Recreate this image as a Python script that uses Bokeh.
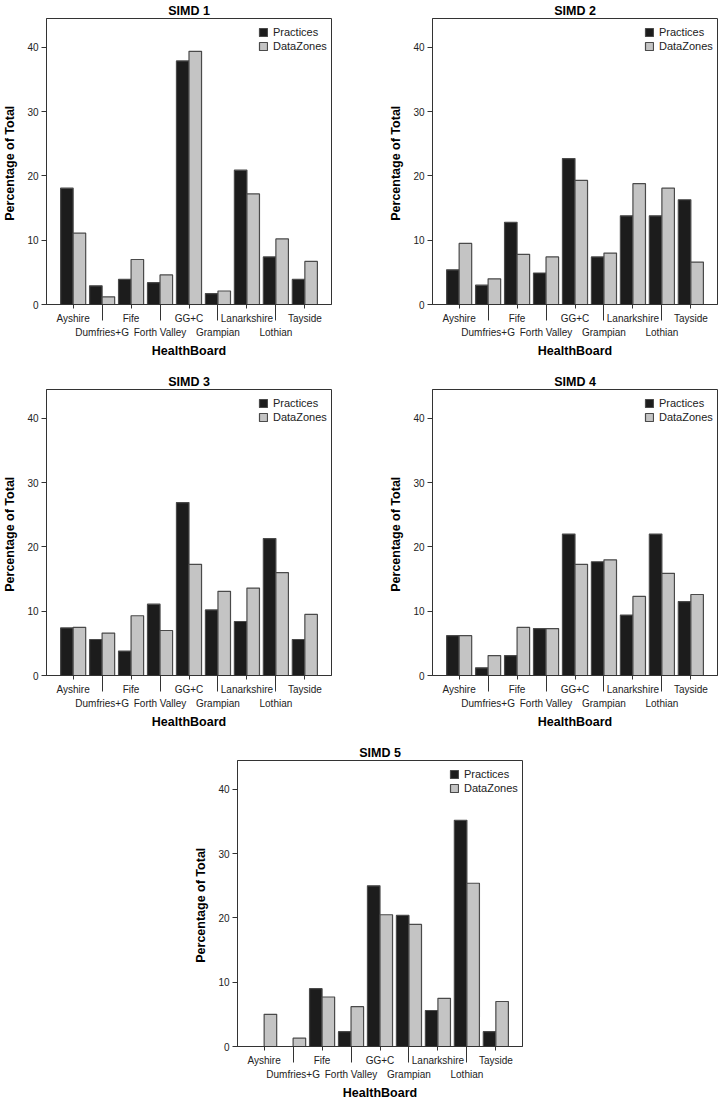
from bokeh.plotting import figure
from bokeh.models import ColumnDataSource, Range1d, FixedTicker, LinearAxis, Spacer
from bokeh.layouts import column, row
from bokeh.transform import dodge
from bokeh.embed import file_html
from bokeh.resources import INLINE

health_boards = ["Ayshire", "Dumfries+G", "Fife", "Forth Valley", "GG+C",
                 "Grampian", "Lanarkshire", "Lothian", "Tayside"]
series_names = ["Practices", "DataZones"]
y_ticks = [0, 10, 20, 30, 40]

simd1_practices = [18.1, 2.9, 3.9, 3.4, 37.9, 1.7, 20.9, 7.4, 3.9]
simd1_datazones = [11.1, 1.2, 7.0, 4.6, 39.4, 2.1, 17.2, 10.2, 6.7]
simd2_practices = [5.4, 3.0, 12.8, 4.9, 22.7, 7.4, 13.8, 13.8, 16.3]
simd2_datazones = [9.5, 4.0, 7.8, 7.4, 19.3, 8.0, 18.8, 18.1, 6.6]
simd3_practices = [7.4, 5.6, 3.8, 11.1, 26.9, 10.2, 8.4, 21.3, 5.6]
simd3_datazones = [7.5, 6.6, 9.3, 7.0, 17.3, 13.1, 13.6, 16.0, 9.5]
simd4_practices = [6.2, 1.2, 3.1, 7.3, 22.0, 17.7, 9.4, 22.0, 11.5]
simd4_datazones = [6.2, 3.1, 7.5, 7.3, 17.3, 18.0, 12.3, 15.9, 12.6]
simd5_practices = [0.0, 0.0, 9.0, 2.3, 25.0, 20.4, 5.6, 35.2, 2.3]
simd5_datazones = [5.0, 1.3, 7.7, 6.2, 20.5, 19.0, 7.5, 25.4, 7.0]

FONT = "Liberation Sans"
DARK = "#1c1c1c"
LIGHT = "#c4c4c4"
EDGE = "#4a4a4a"
AXIS = "#333333"
FRAME_W = 285
FRAME_H = 286


def make_panel(title, prac, dz, left, right, bottom):
    pos = list(range(1, len(health_boards) + 1))
    src = ColumnDataSource(dict(pos=pos, prac=prac, dz=dz, board=health_boards))
    p = figure(frame_width=FRAME_W, frame_height=FRAME_H,
               x_range=Range1d(0.08, len(health_boards) + 0.92),
               y_range=Range1d(0, 44.5),
               output_backend="svg", toolbar_location=None, title=title,
               min_border_left=left, min_border_right=right,
               min_border_top=4, min_border_bottom=bottom)
    p.vbar(x=dodge("pos", -0.2165), top="prac", width=0.433, source=src,
           fill_color=DARK, line_color=EDGE, line_width=1.2,
           legend_label=series_names[0])
    p.vbar(x=dodge("pos", 0.2165), top="dz", width=0.433, source=src,
           fill_color=LIGHT, line_color=EDGE, line_width=1.2,
           legend_label=series_names[1])

    p.grid.visible = False
    p.outline_line_color = AXIS
    p.outline_line_width = 1
    p.background_fill_color = "white"
    p.border_fill_color = "white"

    p.title.align = "center"
    p.title.text_font = FONT
    p.title.text_font_size = "12.5px"
    p.title.text_font_style = "bold"
    p.title.text_color = "black"
    p.title.standoff = 2

    # y axis
    ya = p.yaxis[0]
    ya.ticker = FixedTicker(ticks=y_ticks)
    ya.axis_label = "Percentage of  Total"
    ya.axis_label_text_font = FONT
    ya.axis_label_text_font_size = "12.5px"
    ya.axis_label_text_font_style = "bold"
    ya.axis_label_text_color = "black"
    ya.axis_label_standoff = 7
    ya.major_label_text_font = FONT
    ya.major_label_text_font_size = "10px"
    ya.major_label_text_color = "#222222"
    ya.major_label_standoff = 3
    ya.major_tick_out = 5
    ya.major_tick_in = 0
    ya.minor_tick_line_color = None
    ya.axis_line_color = AXIS
    ya.major_tick_line_color = AXIS

    odd_pos = pos[0::2]
    even_pos = pos[1::2]

    # x axis row 1 (short ticks at odd boards, long ticks at even boards)
    xa = p.xaxis[0]
    xa.ticker = FixedTicker(ticks=odd_pos, minor_ticks=even_pos)
    xa.major_label_overrides = {k: health_boards[k - 1] for k in odd_pos}
    xa.major_label_text_font = FONT
    xa.major_label_text_font_size = "10px"
    xa.major_label_text_color = "#222222"
    xa.major_label_standoff = -8
    xa.major_tick_out = 4
    xa.major_tick_in = 0
    xa.minor_tick_out = 16
    xa.minor_tick_in = 0
    xa.axis_line_color = AXIS
    xa.major_tick_line_color = AXIS
    xa.minor_tick_line_color = AXIS

    # x axis row 2
    xb = LinearAxis(ticker=FixedTicker(ticks=even_pos, minor_ticks=[]))
    xb.major_label_overrides = {k: health_boards[k - 1] for k in even_pos}
    xb.major_label_text_font = FONT
    xb.major_label_text_font_size = "10px"
    xb.major_label_text_color = "#222222"
    xb.major_label_standoff = 0
    xb.major_tick_out = 0
    xb.major_tick_in = 0
    xb.major_tick_line_color = None
    xb.minor_tick_line_color = None
    xb.axis_line_color = None
    xb.axis_label = "HealthBoard"
    xb.axis_label_text_font = FONT
    xb.axis_label_text_font_size = "12.5px"
    xb.axis_label_text_font_style = "bold"
    xb.axis_label_text_color = "black"
    xb.axis_label_standoff = 3
    p.add_layout(xb, "below")

    lg = p.legend[0]
    lg.location = (FRAME_W - 73, FRAME_H - 34)
    lg.background_fill_alpha = 0
    lg.border_line_color = None
    lg.glyph_width = 10
    lg.glyph_height = 10
    lg.label_height = 12
    lg.label_width = 10
    lg.label_standoff = 5
    lg.spacing = 2
    lg.padding = 0
    lg.margin = 0
    lg.label_text_font = FONT
    lg.label_text_font_size = "11px"
    lg.label_text_color = "#222222"
    return p


p1 = make_panel("SIMD 1", simd1_practices, simd1_datazones, 40, 55, 67)
p2 = make_panel("SIMD 2", simd2_practices, simd2_datazones, 40, 2, 67)
p3 = make_panel("SIMD 3", simd3_practices, simd3_datazones, 40, 55, 67)
p4 = make_panel("SIMD 4", simd4_practices, simd4_datazones, 40, 2, 67)
p5 = make_panel("SIMD 5", simd5_practices, simd5_datazones, 40, 2, 0)

layout = column(row(p1, p2), row(p3, p4), row(Spacer(width=191, height=10), p5))
open("out.html", "w").write(file_html(layout, INLINE))
